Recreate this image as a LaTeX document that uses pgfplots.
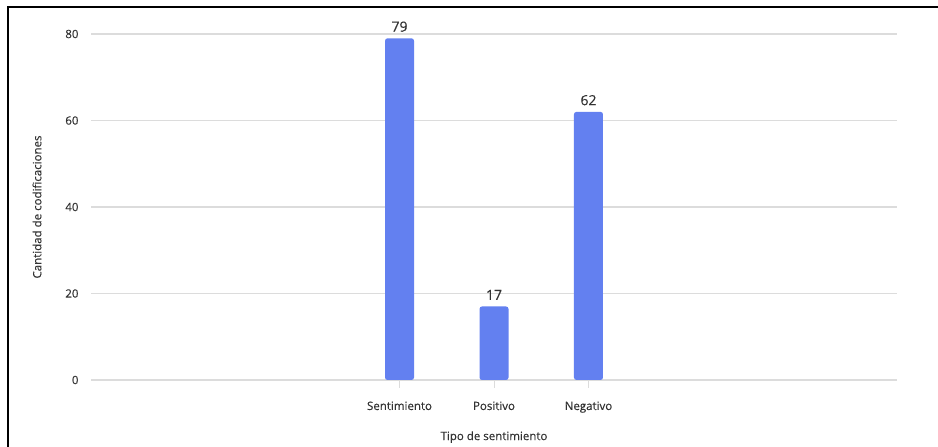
\documentclass[border=0pt]{standalone}
\usepackage{pgfplots}
\pgfplotsset{compat=1.18}
\usepackage{fontspec}
\setmainfont{Open Sans}[FakeBold=0.4]
\definecolor{barblue}{HTML}{6380F0}
\definecolor{gridgray}{HTML}{DCDCDC}
\definecolor{textgray}{HTML}{333333}
\begin{document}
\begin{tikzpicture}[x=1pt,y=1pt]
\useasboundingbox (0,0) rectangle (938,447);
% frame along the top and left edges
\draw[line width=2pt, black] (8.3,0) -- (8.3,440) -- (938,440);
\begin{axis}[
  at={(91pt,67pt)}, anchor=south west,
  scale only axis, width=806pt, height=346pt,
  xmin=-3.265, xmax=5.265, ymin=0, ymax=80,
  clip=false,
  axis x line*=bottom, axis y line*=left,
  axis line style={draw=none},
  ytick={0,20,40,60,80},
  ymajorgrids, grid style={gridgray, line width=1.3pt},
  major y tick style={draw=none},
  xtick={0,1,2},
  xticklabels={Sentimiento,Positivo,Negativo},
  major x tick style={gridgray, line width=1pt},
  major tick length=8pt, tick align=outside,
  /pgf/number format/assume math mode=true,
  tick label style={font=\fontsize{11.5}{13}\selectfont, text=textgray},
  yticklabel style={xshift=-1pt},
  xticklabel style={yshift=-10pt},
  every axis y label/.style={at={(axis description cs:-0.067,0.5)}, rotate=90, anchor=center, font=\fontsize{11.5}{13}\selectfont, text=textgray},
  every axis x label/.style={at={(axis description cs:0.5,-0.165)}, anchor=center, font=\fontsize{11.5}{13}\selectfont, text=textgray},
  ylabel={Cantidad de codificaciones},
  xlabel={Tipo de sentimiento},
]
\addplot[ybar, bar width=29pt, fill=barblue, draw=none, rounded corners=2.5pt,
  nodes near coords,
  every node near coord/.append style={font=\fontsize{14}{16}\selectfont, text=textgray, anchor=south, yshift=3pt, /pgf/number format/assume math mode=true}]
  coordinates {(0,79) (1,17) (2,62)};
\end{axis}
\end{tikzpicture}
\end{document}
